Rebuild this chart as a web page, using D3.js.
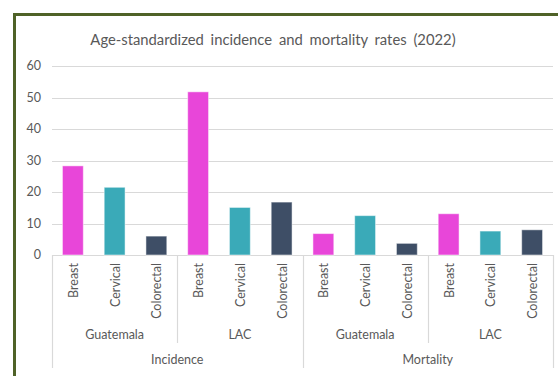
<!DOCTYPE html>
<html><head><meta charset="utf-8">
<script src="https://cdn.jsdelivr.net/npm/d3@7"></script>
<style>body{margin:0;background:#fff;} text{font-family:Lato,"Open Sans",sans-serif;}</style>
</head><body><svg id="c" width="558" height="376"></svg>
<script>
const title = "Age-standardized incidence and mortality rates (2022)";
const measures = ["Incidence", "Mortality"];
const regions = ["Guatemala", "LAC"];
const cancers = ["Breast", "Cervical", "Colorectal"];
const incidenceGuatemala = [28.3, 21.5, 6.0];
const incidenceLAC = [51.8, 15.1, 16.8];
const mortalityGuatemala = [6.8, 12.5, 3.7];
const mortalityLAC = [13.1, 7.6, 8.0];
const yTicks = [0, 10, 20, 30, 40, 50, 60];
const colors = ["#E846D9", "#3AAAB8", "#3E4E66"];

const seriesByKey = {
  "Incidence|Guatemala": incidenceGuatemala, "Incidence|LAC": incidenceLAC,
  "Mortality|Guatemala": mortalityGuatemala, "Mortality|LAC": mortalityLAC
};
const data = [];
measures.forEach(m => regions.forEach(r => cancers.forEach((c, i) => {
  data.push({m, r, c, i, key: m + "|" + r + "|" + c, v: seriesByKey[m + "|" + r][i]});
})));

const svg = d3.select("#c");
// frame
svg.append("rect").attr("x", 14.5).attr("y", 14.5).attr("width", 600).attr("height", 400)
  .attr("fill", "#fff").attr("stroke", "#4F6228").attr("stroke-width", 3);

const L = 52, R = 553, T = 66, B = 255;
const x = d3.scaleBand().domain(data.map(d => d.key)).range([L, R]).paddingInner(0.5).paddingOuter(0.25);
const y = d3.scaleLinear().domain([0, 60]).range([B, T]);

svg.append("text").attr("x", 273).attr("y", 45).attr("text-anchor", "middle")
  .attr("font-size", 14.8).attr("fill", "#595959").attr("word-spacing", 3).text(title);

// grid
svg.append("g").selectAll("line").data(yTicks).join("line")
  .attr("x1", L).attr("x2", R).attr("y1", d => Math.round(y(d)) + 0.5).attr("y2", d => Math.round(y(d)) + 0.5)
  .attr("stroke", "#D9D9D9").attr("stroke-width", 1.2);
svg.append("g").selectAll("text").data(yTicks).join("text")
  .attr("x", 41).attr("y", d => y(d)).attr("dy", "0.35em").attr("text-anchor", "end")
  .attr("font-size", 12.5).attr("fill", "#595959").text(d => d);

// bars
svg.append("g").selectAll("rect").data(data).join("rect")
  .attr("x", d => x(d.key)).attr("width", x.bandwidth())
  .attr("y", d => y(d.v)).attr("height", d => y(0) - y(d.v))
  .attr("fill", d => colors[d.i]).attr("stroke", "rgba(255,255,255,0.5)").attr("stroke-width", 1);

// category labels
svg.append("g").selectAll("text").data(data).join("text")
  .attr("transform", d => `translate(${x(d.key) + x.bandwidth() / 2 + 0.5},263) rotate(-90)`)
  .attr("text-anchor", "end").attr("dy", "0.35em")
  .attr("font-size", 12.5).attr("fill", "#595959").text(d => d.c);

// separators
const step = x.step();
const sep = [];
for (let g = 0; g <= 4; g++) {
  const xx = L + g * 3 * step;
  sep.push({x: xx, y2: (g % 2 === 0) ? 368 : 343});
}
svg.append("g").selectAll("line").data(sep).join("line")
  .attr("x1", d => Math.round(d.x) + 0.5).attr("x2", d => Math.round(d.x) + 0.5)
  .attr("y1", B).attr("y2", d => d.y2).attr("stroke", "#D9D9D9").attr("stroke-width", 1.2);

// region labels
const regionLabels = [];
measures.forEach((m, mi) => regions.forEach((r, ri) => {
  regionLabels.push({t: r, x: L + (mi * 6 + ri * 3 + 1.5) * step});
}));
svg.append("g").selectAll("text").data(regionLabels).join("text")
  .attr("x", d => d.x).attr("y", 339).attr("text-anchor", "middle")
  .attr("font-size", 12.5).attr("fill", "#595959").text(d => d.t);
svg.append("g").selectAll("text").data(measures).join("text")
  .attr("x", (d, i) => L + (i * 6 + 3) * step).attr("y", 364).attr("text-anchor", "middle")
  .attr("font-size", 12.5).attr("fill", "#595959").text(d => d);
</script></body></html>
